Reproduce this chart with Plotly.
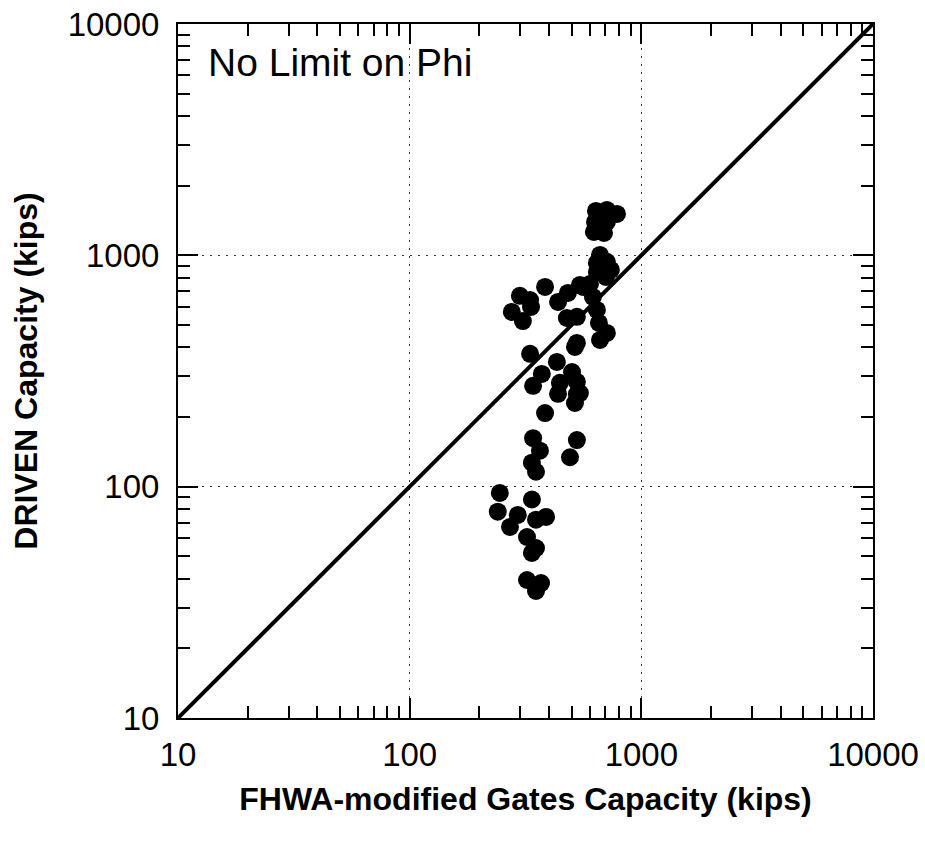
import plotly.graph_objects as go

# Data (kips)
gates_capacity = [
    637, 710, 785, 631, 710, 624, 690,
    663, 643, 710, 643, 739, 703,
    384, 482, 560, 600, 543, 437, 618, 643, 477, 527, 656, 710, 527, 517, 663,
    299, 334, 276, 308, 331,
    331, 432, 372, 502, 341, 445, 527, 543, 527, 437, 517, 384,
    341, 365, 337, 351, 527, 492,
    245, 240, 337, 293, 271, 388, 351, 321, 337, 351, 321, 369, 351,
]
driven_capacity = [
    1556, 1572, 1510, 1395, 1395, 1263, 1250,
    1004, 927, 937, 848, 865, 806,
    730, 688, 730, 752, 745, 629, 661, 581, 536, 542, 510, 462, 418, 402, 431,
    668, 598, 569, 520, 641,
    375, 346, 307, 313, 273, 281, 284, 254, 251, 252, 230, 208,
    162, 143, 127, 116, 159, 134,
    94, 78, 88, 75.5, 67, 74, 72, 60.6, 51.7, 54.3, 39.5, 38.3, 35.4,
]
one_to_one = [10, 10000]
tick_values = [10, 100, 1000, 10000]
tick_labels = ["10", "100", "1000", "10000"]

FONT = "Liberation Sans, Arial, sans-serif"

fig = go.Figure()
fig.add_trace(go.Scatter(
    x=one_to_one, y=one_to_one, mode="lines",
    line=dict(color="black", width=4), showlegend=False, hoverinfo="skip",
))
fig.add_trace(go.Scatter(
    x=gates_capacity, y=driven_capacity, mode="markers",
    marker=dict(color="black", size=18, line=dict(width=0)),
    showlegend=False,
))

axis_common = dict(
    type="log", range=[1, 4], automargin=False,
    tickvals=tick_values, ticktext=tick_labels,
    ticks="inside", ticklen=20, tickwidth=1.5, tickcolor="black",
    minor=dict(ticks="inside", ticklen=12, tickwidth=1.5, tickcolor="black",
               dtick="D1", showgrid=False),
    showline=True, linecolor="black", linewidth=2, mirror="ticks",
    showgrid=True, gridcolor="#333333", gridwidth=1, griddash="2px,6px",
    zeroline=False,
    tickfont=dict(family=FONT, size=33, color="black"),
)

fig.update_xaxes(
    **axis_common,
    ticklabelstandoff=6,
    title=dict(text="<b>FHWA-modified Gates Capacity (kips)</b>",
               font=dict(family=FONT, size=32, color="black"), standoff=16),
)
fig.update_yaxes(
    **axis_common,
    ticklabelstandoff=10,
    title=dict(text="<b>DRIVEN Capacity (kips)</b>",
               font=dict(family=FONT, size=32, color="black"), standoff=20),
)

fig.add_annotation(
    text="No Limit on Phi", xref="paper", yref="paper",
    x=0.040, y=0.944, xanchor="left", yanchor="middle", showarrow=False,
    font=dict(family=FONT, size=39, color="black"),
)

fig.update_layout(
    width=925, height=841,
    margin=dict(l=178, r=52, t=24, b=123),
    paper_bgcolor="white", plot_bgcolor="white",
)

fig.write_html("out.html")
